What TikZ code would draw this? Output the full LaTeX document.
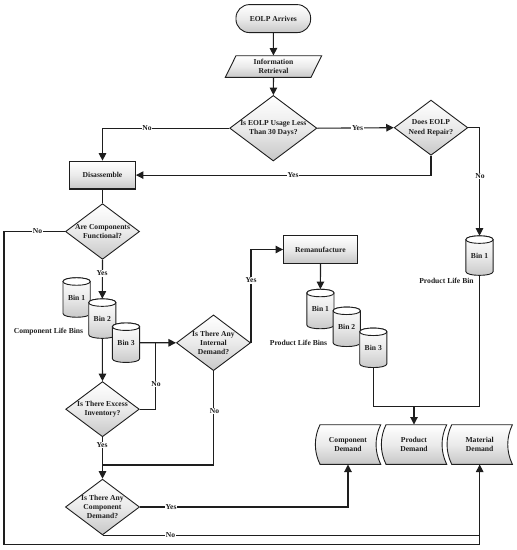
\documentclass[tikz,border=0pt]{standalone}
\usepackage{fontspec}
\setmainfont{Liberation Serif}
\usetikzlibrary{shapes.geometric,arrows.meta}
\definecolor{inkc}{HTML}{1E1E1E}
\tikzset{
  shadeit/.style={draw=inkc,line width=0.9pt,top color=white,bottom color=black!22,middle color=black!8},
  txt/.style={font=\bfseries\fontsize{7.6}{9.2}\selectfont,text=inkc,align=center,inner sep=0pt},
  dec/.style={shape=diamond,shadeit,txt,minimum width=73.6pt,minimum height=55.2pt,aspect=1.33},
  procbox/.style={shape=rectangle,shadeit,txt,minimum width=74pt,minimum height=27.6pt},
  anchorbox/.style={shape=rectangle,txt},
  lab/.style={txt,fill=white,inner sep=0.6pt},
  plain/.style={txt},
  conn/.style={draw=inkc,line width=1.1pt},
  arr/.style={conn,-{Triangle[length=7.5pt,width=7.5pt]}},
}
\newcommand{\binnode}[4]{%
  \path[shadeit] (#2-13.6,#3-16) -- (#2-13.6,#3+16)
     .. controls (#2-13.6,#3+21) and (#2+13.6,#3+21) .. (#2+13.6,#3+16)
     -- (#2+13.6,#3-16)
     .. controls (#2+13.6,#3-21) and (#2-13.6,#3-21) .. (#2-13.6,#3-16) -- cycle;
  \path[draw=inkc,line width=0.9pt,fill=white] (#2-13.6,#3-16)
     .. controls (#2-13.6,#3-21) and (#2+13.6,#3-21) .. (#2+13.6,#3-16)
     .. controls (#2+13.6,#3-11) and (#2-13.6,#3-11) .. (#2-13.6,#3-16) -- cycle;
  \node[anchorbox,minimum width=27.3pt,minimum height=39.4pt] (#1) at (#2,#3) {\raisebox{-2pt}{Bin #4}};
}
\newcommand{\demandnode}[4]{%
  \path[shadeit] (#2-28,#3-19.8) -- (#2+32.7,#3-19.8)
     .. controls (#2+26.5,#3-7) and (#2+26.5,#3+7) .. (#2+32.7,#3+19.8)
     -- (#2-28,#3+19.8)
     .. controls (#2-34.2,#3+7) and (#2-34.2,#3-7) .. (#2-28,#3-19.8) -- cycle;
  \node[anchorbox,minimum width=60pt,minimum height=39.6pt] (#1) at (#2,#3) {#4};
}
\begin{document}
\begin{tikzpicture}[x=1pt,y=-1pt]
\useasboundingbox (0,0) rectangle (517,550);
% start and parallelogram
\node[shape=rectangle,rounded corners=13.5pt,shadeit,txt,minimum width=74.7pt,minimum height=28pt] (start) at (273.3,18.6) {EOLP Arrives};
\path[shadeit] (236,55.7) -- (321.7,55.7) -- (311,77.3) -- (225.3,77.3) -- cycle;
\node[anchorbox,minimum width=85pt,minimum height=21.6pt] (info) at (273.5,66.5) {Information\\Retrieval};
% decisions
\node[dec] (d1) at (273.3,128.2) {Is EOLP Usage Less\\Than 30 Days?};
\node[dec] (d2) at (431,127.7) {Does EOLP\\Need Repair?};
\node[procbox,line width=1.3pt,minimum width=65.6pt] (dis) at (102.5,175.1) {Disassemble};
\node[dec] (d3) at (102.5,231.5) {Are Components\\Functional?};
\node[procbox] (rem) at (320.5,249.5) {Remanufacture};
\node[dec] (d4) at (213.5,342.8) {Is There Any\\Internal\\Demand?};
\node[dec] (d5) at (102.5,409.2) {Is There Excess\\Inventory?};
\node[dec] (d6) at (102.5,507) {Is There Any\\Component\\Demand?};
% bins
\binnode{rb}{479.5}{255.6}{1}
\binnode{cb1}{76.6}{297.5}{1}
\binnode{cb2}{102.3}{318.6}{2}
\binnode{cb3}{126}{342.7}{3}
\binnode{pb1}{320.4}{309}{1}
\binnode{pb2}{346.7}{326.8}{2}
\binnode{pb3}{373.3}{347.8}{3}
% demands
\demandnode{cd}{348}{444.5}{Component\\Demand}
\demandnode{pd}{414}{444.5}{Product\\Demand}
\demandnode{md}{479.7}{444.5}{Material\\Demand}
% free corners
\coordinate (nt) at (102.5,465);
\coordinate (cx) at (155.7,342.7);
\coordinate (prodtop) at (414,406.7);
\coordinate (leftc) at (4,544.3);
% connectors
\draw[arr] (start) -- (info);
\draw[arr] (info) -- (d1);
\draw[arr] (d1.east) -- (d2.west);
\draw[arr] (d1.west) -| (dis.north);
\draw[arr] (d2.south) |- (dis.east);
\draw[arr] (d2.east) -| (rb.north);
\draw[conn] (dis.south) -- (d3.north);
\draw[arr] (d3.south) -- (cb2.north);
\draw[arr] (cb2.south) -- (d5.north);
\draw[arr] (cb3.east) -- (d4.west);
\draw[conn] (d5.east) -| (cx);
\draw[arr] (d4.east) |- (rem.west);
\draw[arr] (rem.south) -- (pb1.north);
\draw[arr] (d5.south) -- (d6.north);
\draw[conn] (d4.south) |- (nt);
\draw[conn] (pb3.south) |- (prodtop) -| (rb.south);
\draw[arr] (prodtop) -- (pd.north);
\draw[arr] (d6.east) -| (cd.south);
\draw[arr] (d6.south) -| (md.south);
\draw[conn] (d3.west) -| (leftc) -| (md.south);
% connector labels
\node[lab] (l1) at (147,128) {No};
\node[lab] (l2) at (357.5,128) {Yes};
\node[lab] (l3) at (293,175.5) {Yes};
\node[lab] (l4) at (480,176.3) {No};
\node[lab] (l5) at (37.5,231.5) {No};
\node[lab] (l6) at (102,273.5) {Yes};
\node[lab] (l7) at (251,280.5) {Yes};
\node[lab] (l8) at (156,384) {No};
\node[lab] (l9) at (214.5,411) {No};
\node[lab] (l10) at (102,445) {Yes};
\node[lab] (l11) at (171,507.5) {Yes};
\node[lab] (l12) at (170.5,535) {No};
% captions
\node[plain] (c1) at (48.5,331.7) {Component Life Bins};
\node[plain] (c2) at (298.5,343) {Product Life Bins};
\node[plain] (c3) at (446.5,281.3) {Product Life Bin};
\end{tikzpicture}
\end{document}
